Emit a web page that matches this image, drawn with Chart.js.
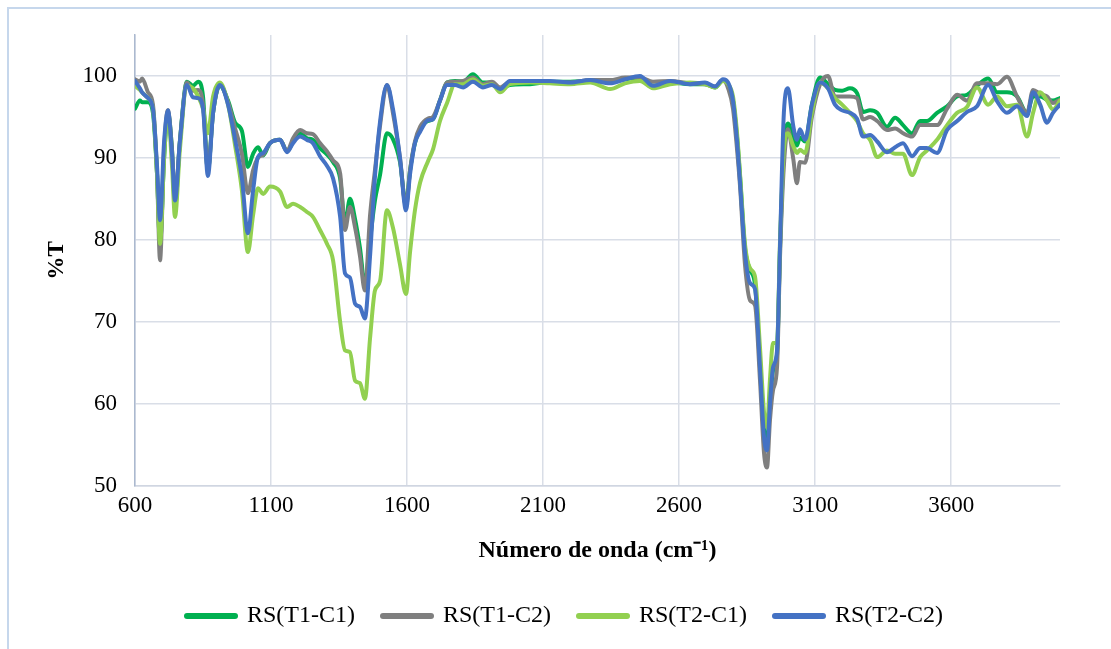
<!DOCTYPE html>
<html>
<head>
<meta charset="utf-8">
<script src="https://cdn.jsdelivr.net/npm/chart.js@4.4.1/dist/chart.umd.min.js"></script>
<style>
  html, body { margin: 0; padding: 0; background: #fff; }
  #frame { position: absolute; left: 7px; top: 7px; width: 1200px; height: 700px; border: 2px solid #c6d7ec; box-sizing: border-box; }
  #wrap { position: absolute; left: 0; top: 0; width: 1111px; height: 649px; }
</style>
</head>
<body>
<div id="frame"></div>
<div id="wrap"><canvas id="chart"></canvas></div>
<script>
// wavenumber (cm-1) shared by all four spectra
const wavenumbers = [
  600, 618, 626, 648, 666, 681, 692, 707, 721, 736,
  747, 765, 791, 813, 832, 850, 868, 887, 912, 942,
  968, 993, 1015, 1034, 1052, 1071, 1096, 1133, 1159, 1181,
  1207, 1232, 1254, 1280, 1306, 1328, 1354, 1372, 1390, 1409,
  1427, 1445, 1464, 1482, 1501, 1526, 1548, 1574, 1596, 1611,
  1629, 1648, 1677, 1695, 1721, 1747, 1776, 1806, 1842, 1879,
  1912, 1942, 1978, 2052, 2125, 2199, 2273, 2346, 2401, 2456,
  2504, 2567, 2640, 2695, 2732, 2761, 2780, 2798, 2813, 2824,
  2842, 2861, 2879, 2897, 2912, 2923, 2934, 2945, 2960, 2971,
  2985, 3000, 3019, 3033, 3044, 3063, 3088, 3118, 3147, 3173,
  3199, 3228, 3254, 3276, 3302, 3328, 3364, 3394, 3423, 3456,
  3486, 3511, 3548, 3585, 3622, 3658, 3695, 3736, 3769, 3805,
  3842, 3879, 3901, 3927, 3952, 3974, 4000
];

// %T values
const t1c1 = [
  96.0, 97.0, 96.8, 96.8, 95.5, 88, 79.5, 90, 95.5, 91,
  84, 92, 99.3, 98.8, 99.3, 97.5, 88.5, 95.5, 98.8, 97.0,
  94.3, 93.3, 88.9, 90.5, 91.3, 90.3, 91.8, 92.2, 90.8, 92.0,
  93.0, 92.4, 92.2, 91.2, 90.4, 89.5, 87.5, 82.0, 85.0, 82.5,
  79.0, 74.5, 80.0, 84.8, 88.0, 93.0, 92.3, 89.5, 84.3, 88.5,
  91.8, 93.5, 94.5, 94.7, 97.0, 99.2, 99.4, 99.3, 100.2, 99.2,
  99.2, 98.4, 98.9, 99.0, 99.3, 99.3, 99.4, 99.4, 99.6, 99.8,
  98.8, 99.2, 99.0, 99.0, 98.6, 99.5, 99.0, 97.0, 92.5, 87.7,
  79.0, 76.3, 74.5, 65.0, 57.0, 55.0, 60.0, 64.0, 66.0, 79.0,
  91.0, 94.2, 92.5, 91.5, 92.5, 92.0, 96.5, 99.8, 99.0, 98.3,
  98.2, 98.5, 97.9, 95.6, 95.8, 95.5, 93.8, 94.9, 94.0, 93.0,
  94.5, 94.5, 95.5, 96.3, 97.5, 97.7, 98.8, 99.7, 98.0, 98.0,
  97.5, 95.5, 97.5, 97.5, 97.1, 97.0, 97.3
];
const t1c2 = [
  99.6, 99.3, 99.7, 98.0, 96.5, 88, 77.5, 91, 95.8, 91,
  85, 92, 99.2, 98.2, 98.3, 96.5, 88.5, 95.5, 99.0, 96.8,
  93.6, 90.5, 85.7, 88.5, 90.0, 90.4, 91.8, 92.2, 90.8, 92.4,
  93.4, 93.0, 92.9, 91.8, 90.8, 89.7, 88.1, 81.2, 84.0, 81.5,
  78.0, 73.8, 83.0, 88.5, 94.0, 98.9, 95.5, 90.0, 84.0, 88.5,
  92.0, 93.8, 94.8, 95.0, 97.0, 99.2, 99.3, 99.4, 99.8, 99.0,
  99.3, 98.6, 99.3, 99.4, 99.3, 99.2, 99.5, 99.5, 99.8, 99.8,
  99.3, 99.4, 99.1, 99.0, 98.7, 99.5, 98.5, 96.0, 91.0, 86.5,
  77.0, 72.6, 72.0, 63.0, 54.0, 52.2, 58.0, 61.6, 64.5, 78.0,
  89.0, 93.5, 90.0, 86.9, 89.5, 89.4, 95.0, 99.0, 100.0, 97.5,
  97.5, 97.5, 97.3, 94.7, 95.0, 94.5, 93.4, 93.6, 93.0, 92.6,
  94.0, 94.0, 94.0, 96.0, 97.7, 97.0, 99.1, 99.1, 99.0, 99.9,
  97.5, 95.5, 98.3, 97.8, 97.5, 96.7, 97.1
];
const t2c1 = [
  98.8, 98.3, 98.0, 97.3, 96.0, 88, 79.5, 90, 95.5, 89,
  82.8, 91, 98.8, 98.5, 97.5, 96, 93, 97.5, 99.2, 96.5,
  91.5, 86, 78.5, 83, 86.3, 85.6, 86.5, 85.9, 84.0, 84.4,
  84.0, 83.4, 82.8, 81.2, 79.5, 77.5, 70.0, 66.5, 66.3, 62.8,
  62.5, 60.6, 68.0, 73.8, 75.0, 83.6, 81.5, 77.0, 73.4, 78.5,
  83.6, 87.0, 89.6, 91.0, 94.5, 96.7, 99.0, 99.0, 99.6, 98.8,
  99.0, 98.0, 99.0, 99.2, 99.1, 99.0, 99.2, 98.4, 99.1, 99.4,
  98.5, 99.0, 99.2, 99.0, 98.6, 99.4, 99.0, 97.5, 93.0, 88.0,
  79.5, 76.5, 75.5, 67.0, 59.0, 57.1, 63.0, 67.4, 67.5, 80.0,
  91.0, 93.0, 91.5, 90.6, 91.0, 90.6, 95.5, 99.2, 98.5, 97.3,
  96.5, 95.5, 94.5, 93.0, 92.2, 90.1, 90.9, 90.5, 90.5, 87.9,
  90.1, 90.9, 92.2, 94.0, 95.5, 96.2, 98.6, 96.5, 97.5, 96.3,
  96.5, 92.6, 95.5, 98.0, 97.0, 95.9, 97.0
];
const t2c2 = [
  99.4, 98.5, 98.0, 97.3, 96.0, 89, 82.4, 92, 95.8, 90.5,
  84.8, 92, 98.9, 97.4, 97.3, 96, 87.8, 95.5, 98.9, 96.5,
  92.2, 87.5, 80.8, 86, 90.1, 90.6, 91.8, 92.2, 90.7, 91.8,
  92.6, 92.2, 91.8, 90.2, 89.0, 87.5, 82.8, 75.9, 75.4, 72.2,
  71.8, 70.4, 78.0, 87.7, 94.5, 98.9, 96, 90.0, 83.6, 88.0,
  91.8, 93.2, 94.6, 94.7, 97.0, 98.9, 98.9, 98.6, 99.3, 98.6,
  98.9, 98.4, 99.4, 99.4, 99.4, 99.2, 99.5, 99.1, 99.6, 100.0,
  98.8, 99.4, 99.0, 99.2, 98.7, 99.6, 99.2, 97.0, 92.0, 87.0,
  78.5, 74.7, 74.0, 64.5, 56.0, 54.3, 60.0, 64.4, 66.5, 79.5,
  95.5, 98.5, 94.0, 92.2, 93.5, 92.2, 96.5, 99.2, 98.5, 96.5,
  95.8, 95.5, 94.8, 92.6, 92.8, 92.0, 90.7, 91.3, 91.8, 90.2,
  91.2, 91.2, 90.6, 93.4, 94.5, 95.6, 96.3, 98.9, 96.9, 95.5,
  96.3, 95.1, 98.0, 96.5, 94.3, 95.5, 96.5
];

const xTicks = [600, 1100, 1600, 2100, 2600, 3100, 3600];
const yTicks = [50, 60, 70, 80, 90, 100];
const seriesNames = ['RS(T1-C1)', 'RS(T1-C2)', 'RS(T2-C1)', 'RS(T2-C2)'];
const seriesColors = ['#00b050', '#7f7f7f', '#92d050', '#4472c4'];
const seriesValues = [t1c1, t1c2, t2c1, t2c2];

const serif = "'Liberation Serif', 'Times New Roman', serif";
const gridColor = '#d9dee7';

new Chart(document.getElementById('chart'), {
  type: 'line',
  data: {
    datasets: seriesValues.map((values, index) => ({
      label: seriesNames[index],
      data: wavenumbers.map((w, i) => ({ x: w, y: values[i] })),
      borderColor: seriesColors[index],
      backgroundColor: seriesColors[index],
      borderWidth: 4,
      pointRadius: 0,
      cubicInterpolationMode: 'monotone',
      borderJoinStyle: 'round',
      borderCapStyle: 'round',
      // last series painted on top
      order: seriesValues.length - index
    }))
  },
  options: {
    responsive: true,
    maintainAspectRatio: false,
    animation: false,
    layout: { padding: { left: 70, right: 51, top: 35, bottom: 11 } },
    scales: {
      x: {
        type: 'linear',
        min: 600,
        max: 4000,
        afterBuildTicks: (scale) => { scale.ticks = xTicks.map(v => ({ value: v })); },
        ticks: {
          font: { family: serif, size: 23 },
          color: '#000',
          padding: 7,
          maxRotation: 0,
          callback: (value) => String(value)
        },
        grid: { color: gridColor, lineWidth: 1.5, drawTicks: false },
        border: { color: '#d0d6e1', width: 1.5 },
        title: {
          display: true,
          text: 'Número de onda (cm⁻¹)',
          font: { family: serif, size: 24, weight: 'bold' },
          color: '#000',
          padding: { top: 9, bottom: 11 }
        }
      },
      y: {
        min: 50,
        max: 105,
        afterBuildTicks: (scale) => { scale.ticks = yTicks.map(v => ({ value: v })); },
        afterFit: (scale) => { scale.width = 65; },
        ticks: { font: { family: serif, size: 23 }, color: '#000', padding: 18 },
        grid: { color: gridColor, lineWidth: 1.5, drawTicks: false },
        border: { color: '#abb9cf', width: 1.5 },
        title: {
          display: true,
          text: '%T',
          font: { family: serif, size: 23, weight: 'bold' },
          color: '#000',
          padding: { top: -27, bottom: 0 }
        }
      }
    },
    plugins: {
      legend: {
        position: 'bottom',
        labels: {
          font: { family: serif, size: 24 },
          color: '#000',
          usePointStyle: true,
          pointStyleWidth: 48,
          boxHeight: 6,
          padding: 28,
          generateLabels: (chart) => Chart.defaults.plugins.legend.labels.generateLabels(chart)
            .sort((a, b) => a.datasetIndex - b.datasetIndex)
            .map(item => ({ ...item, pointStyle: 'line', lineWidth: 6, lineCap: 'round' }))
        }
      },
      tooltip: { enabled: false }
    }
  }
});
</script>
</body>
</html>
